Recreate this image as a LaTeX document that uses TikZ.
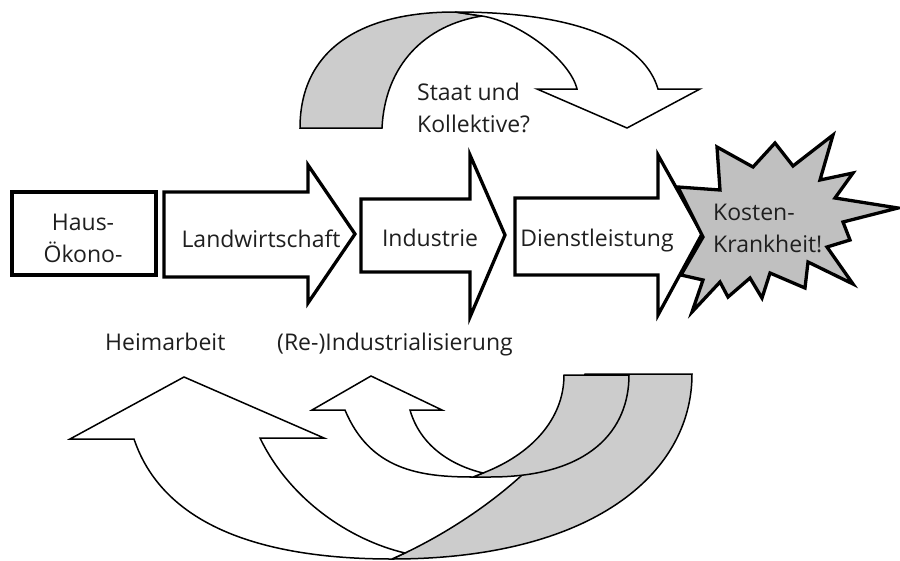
\documentclass[tikz,border=0pt]{standalone}
\usepackage{fontspec}
\setmainfont{Open Sans}
\usepackage{tikz}

\definecolor{bandgray}{HTML}{CCCCCC}
\definecolor{stargray}{HTML}{C0C0C0}

\begin{document}
\begin{tikzpicture}[x=1pt,y=-1pt,
  block/.style={draw, line width=3.3pt, fill=white, line join=miter},
  band/.style={draw, line width=1.5pt, fill=white, line join=miter},
  backband/.style={draw, line width=1.5pt, fill=bandgray, line join=miter},
  lbl/.style={font=\fontsize{23}{31}\selectfont, inner sep=0pt, text=black!88}]

\useasboundingbox (0,0) rectangle (900,560);

% Staat und Kollektive
\draw[backband] (300,128) .. controls (300,50) and (360,12) .. (455,12) -- (482,16) .. controls (425,25) and (385,65) .. (382,128) -- cycle;
\draw[band] (455,12) .. controls (585,12) and (645,45) .. (658,89) -- (700,89) -- (627,128) -- (537,89) -- (577,89) .. controls (570,60) and (520,22) .. (482,16) -- cycle;

% row
\draw[block] (12,192) rectangle (156,275);
\draw[block] (164,192) -- (308,192) -- (308,165) -- (355,234) -- (308,303) -- (308,277) -- (164,277) -- cycle;
\draw[block] (361,199) -- (470,199) -- (470,155) -- (505,235) -- (470,317) -- (470,272) -- (361,272) -- cycle;
\draw[block] (515,198) -- (658,198) -- (658,155) -- (702,234) -- (658,315) -- (658,275) -- (515,275) -- cycle;

% Kosten-Krankheit
\draw[block, fill=stargray] (678,187) -- (720,190) -- (717,147) -- (753,167) -- (775,143) -- (793,166) -- (833,135) -- (820,180) -- (853,173) -- (835,198) -- (898,208) -- (843,222) -- (850,240) -- (827,247) -- (853,284) -- (808,262) -- (805,288) -- (770,273) -- (762,298) -- (750,278) -- (728,297) -- (720,282) -- (692,312) -- (703,280) -- (681,275) -- (703,237) -- cycle;

% Heimarbeit (big) and Re-Industrialisierung (small)
\draw[backband] (585,374) -- (692,374) .. controls (692,475) and (590,559) .. (392,559) -- (405,553) .. controls (485,515) and (580,440) .. (585,374) -- cycle;
\draw[band] (134,439) .. controls (162,522) and (255,559) .. (392,559) -- (405,553) .. controls (350,540) and (290,500) .. (260,438) -- (324,438) -- (184,377) -- (70,439) -- cycle;
\draw[backband] (564,375) -- (629,375) .. controls (629,430) and (590,477) .. (490,477) -- (473,477) -- (483,473) .. controls (530,455) and (564,420) .. (564,375) -- cycle;
\draw[band] (345,410) .. controls (370,470) and (420,477) .. (473,477) -- (483,473) .. controls (450,465) and (420,445) .. (410,410) -- (442,410) -- (371,376) -- (312,410) -- cycle;

% labels
\node[lbl, anchor=base] (haus) at (83,230) {Haus-};
\node[lbl, anchor=base] (oeko) at (83,262) {Ökono-};
\node[lbl, anchor=base] (landw) at (261,247) {Landwirtschaft};
\node[lbl, anchor=base] (indu) at (430,246) {Industrie};
\node[lbl, anchor=base] (dienst) at (597,246) {Dienstleistung};
\node[lbl, anchor=base west] (kosten) at (713,220) {Kosten-};
\node[lbl, anchor=base west] (krank) at (713,252) {Krankheit!};
\node[lbl, anchor=base west] (staat) at (417,100) {Staat und};
\node[lbl, anchor=base west] (koll) at (417,132) {Kollektive?};
\node[lbl, anchor=base west] (heim) at (105,350) {Heimarbeit};
\node[lbl, anchor=base west] (reind) at (277,350) {(Re-)Industrialisierung};

\end{tikzpicture}
\end{document}
